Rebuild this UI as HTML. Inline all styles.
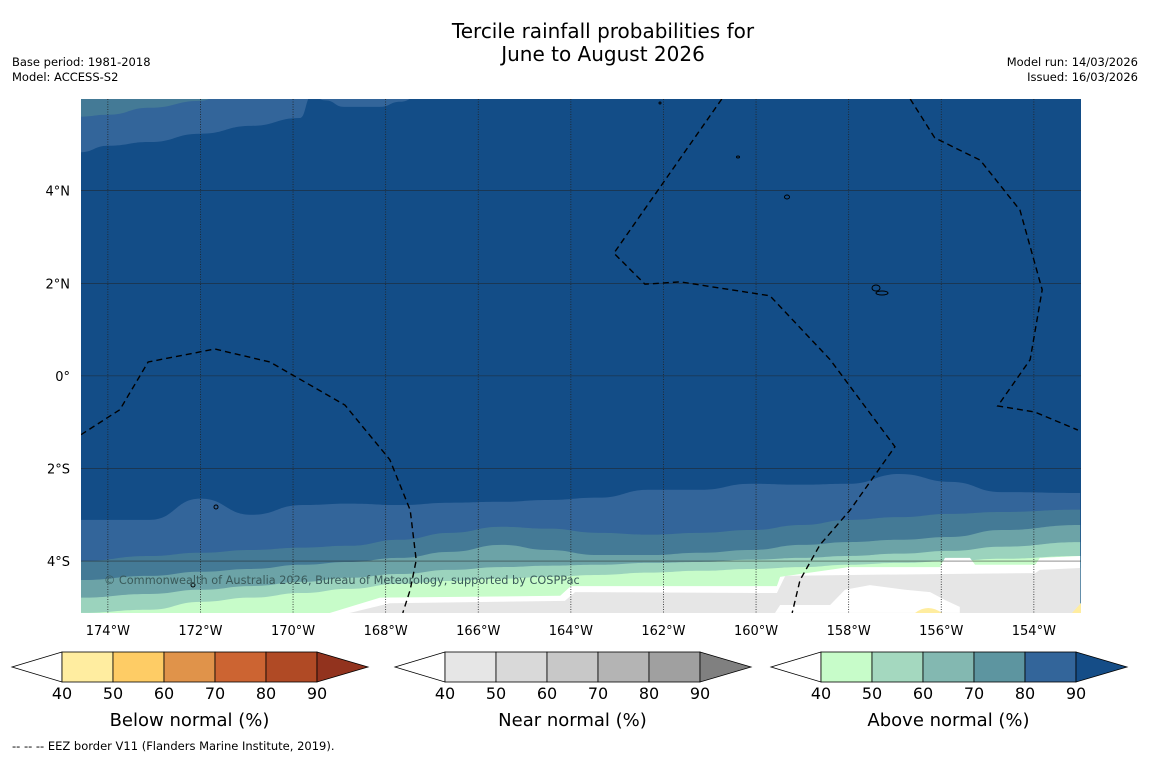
<!DOCTYPE html>
<html><head><meta charset="utf-8">
<style>
body{margin:0;background:#fff;width:1150px;height:758px;overflow:hidden;font-family:"DejaVu Sans","Liberation Sans",sans-serif;}
svg{display:block}
</style></head>
<body>
<svg id="chart" width="1150" height="758" xmlns="http://www.w3.org/2000/svg">
<text x="603" y="38" font-size="20" text-anchor="middle" fill="#000">Tercile rainfall probabilities for</text>
<text x="603" y="61" font-size="20" text-anchor="middle" fill="#000">June to August 2026</text>
<text x="12" y="66" font-size="11.5">Base period: 1981-2018</text>
<text x="12" y="81" font-size="11.5">Model: ACCESS-S2</text>
<text x="1138" y="66" font-size="11.5" text-anchor="end">Model run: 14/03/2026</text>
<text x="1138" y="81" font-size="11.5" text-anchor="end">Issued: 16/03/2026</text>
<defs><clipPath id="mapclip"><rect x="81" y="99" width="1000" height="514"/></clipPath></defs>
<g id="map" clip-path="url(#mapclip)"></g>
<g id="axes"></g>
<g id="bars"></g>
<text x="12" y="750" font-size="11.5">--  --  -- EEZ border V11 (Flanders Marine Institute, 2019).</text>
</svg>
<script>
const NS="http://www.w3.org/2000/svg";
// ---- data ----
const lonGrid=[-174.6,-173.1,-172.0,-170.9,-169.8,-168.8,-167.7,-166.6,-165.5,-164.5,-163.4,-162.3,-161.2,-160.1,-159.0,-158.0,-156.9,-155.8,-154.7,-153.0];
const bound90=[-3.11,-3.11,-2.65,-3.00,-2.79,-2.76,-2.79,-2.74,-2.72,-2.68,-2.63,-2.46,-2.46,-2.33,-2.35,-2.33,-2.12,-2.29,-2.51,-2.53];
const bound80=[-4.0,-3.89,-3.82,-3.76,-3.71,-3.67,-3.54,-3.39,-3.26,-3.30,-3.39,-3.43,-3.39,-3.33,-3.22,-3.11,-3.05,-2.98,-2.94,-2.89];
const bound70=[-4.41,-4.32,-4.23,-4.17,-4.08,-4.02,-3.93,-3.80,-3.65,-3.76,-3.87,-3.87,-3.82,-3.76,-3.65,-3.59,-3.54,-3.48,-3.33,-3.22];
const bound60=[-4.79,-4.71,-4.62,-4.54,-4.45,-4.36,-4.28,-4.19,-4.13,-4.10,-4.08,-4.04,-4.02,-3.97,-3.93,-3.89,-3.84,-3.78,-3.69,-3.59];
const bound50=[-5.12,-5.05,-4.88,-4.79,-4.69,-4.60,-4.49,-4.43,-4.38,-4.34,-4.30,-4.25,-4.21,-4.17,-4.13,-4.08,-4.04,-4.00,-3.95,-3.89];
const topLon=[-174.6,-174.0,-173.1,-172.0,-170.9,-169.85,-169.6,-169.3,-168.9,-168.12,-167.69,-167.26];
const topBound=[4.83,4.97,5.05,5.23,5.40,5.57,6.05,5.95,5.81,5.81,5.92,6.05];
const topLon2=[-174.6,-174.0,-173.1,-172.0,-171.5];
const topBound2=[5.60,5.64,5.79,5.94,6.1];
const nearLonW=[-174.6,-169.85,-169.2,-168.12,-164.23,-164.0,-159.55,-159.48,-158.0,-156.03,-155.92,-155.38,-155.27,-153.97,-153.87,-153.0];
const nearLatW=[-5.5,-5.5,-5.12,-4.79,-4.75,-4.54,-4.54,-4.34,-4.13,-4.13,-3.93,-3.93,-4.08,-4.08,-3.93,-3.89];
const nearLonG=[-174.6,-168.77,-167.91,-164.13,-163.91,-159.55,-159.37,-158.0,-153.97,-153.87,-153.0];
const nearLatG=[-5.5,-5.12,-4.91,-4.86,-4.67,-4.69,-4.32,-4.30,-4.26,-4.19,-4.15];
const holeLon=[-159.59,-159.48,-158.4,-158.08,-157.54,-156.78,-156.24,-155.92,-155.6,-155.6];
const holeLat=[-5.12,-4.95,-4.95,-4.62,-4.52,-4.62,-4.67,-4.84,-4.99,-5.12];
const eez1Lon=[-174.58,-173.74,-173.13,-171.69,-170.5,-168.88,-167.91,-167.47,-167.34,-167.47,-167.63];
const eez1Lat=[-1.27,-0.73,0.30,0.58,0.30,-0.63,-1.81,-2.90,-3.98,-4.62,-5.12];
const eez2Lon=[-160.74,-163.07,-162.4,-161.64,-159.7,-158.4,-157.0,-157.97,-158.62,-159.05,-159.22];
const eez2Lat=[5.98,2.65,1.98,2.03,1.73,0.35,-1.53,-2.90,-3.65,-4.41,-5.12];
const eez3Lon=[-156.67,-156.14,-155.16,-154.3,-153.82,-154.08,-154.78,-153.98,-153.05];
const eez3Lat=[5.98,5.14,4.66,3.58,1.86,0.35,-0.65,-0.78,-1.17];
const lonTicks=[-174,-172,-170,-168,-166,-164,-162,-160,-158,-156,-154];
const latTicks=[4,2,0,-2,-4];
const barTicks=[40,50,60,70,80,90];
const belowColors=["#ffeda0","#fecc65","#e0934a","#cc6432","#b04a25","#92331e"];
const nearColors=["#e6e6e6","#d9d9d9","#c8c8c8","#b4b4b4","#a0a0a0","#808080"];
const aboveColors=["#c7fcc9","#a4d8bf","#83b8b1","#5d95a0","#33659a","#154d87"];
// ---- axes ----
const lonMin=-174.58, latMax=5.98, ppd=46.3;
const X=lon=>81+(lon-lonMin)*ppd;
const Y=lat=>99+(latMax-lat)*ppd;
function el(tag,attrs,parent){const e=document.createElementNS(NS,tag);for(const k in attrs)e.setAttribute(k,attrs[k]);parent.appendChild(e);return e;}
const map=document.getElementById('map');
const bg=el('rect',{x:81,y:99,width:1000,height:514,fill:'#134d87'},map);


function smoothPts(lons,lats){return lons.map((l,i)=>[X(l),Y(lats[i])]);}
function pathFromPts(p){let d='M'+p[0][0]+','+p[0][1];for(let i=1;i<p.length;i++){const a=p[i-1],b=p[i];const mx=(a[0]+b[0])/2;d+=' C'+mx+','+a[1]+' '+mx+','+b[1]+' '+b[0]+','+b[1];}return d;}
function bandBelow(lons,lats,color,name,smooth){
  const p=smoothPts(lons,lats);
  let d=smooth?pathFromPts(p):'M'+p.map(q=>q.join(',')).join(' L');
  d+=' L'+X(lons[lons.length-1])+',700 L'+X(lons[0])+',700 Z';
  const e=el('path',{d:d,fill:color},map);
  
  
}
function bandAbove(lons,lats,color,name){
  const p=smoothPts(lons,lats);
  let d=pathFromPts(p)+' L'+X(lons[lons.length-1])+',90 L'+X(lons[0])+',90 Z';
  const e=el('path',{d:d,fill:color},map);
  
  
}
bandAbove(topLon,topBound,'#33659a','north-80-band');
bandAbove(topLon2,topBound2,'#447a96','north-70-band');
bandBelow(lonGrid,bound90,'#33659a','above-80-band',true);
bandBelow(lonGrid,bound80,'#447a96','above-70-band',true);
bandBelow(lonGrid,bound70,'#6ca3a7','above-60-band',true);
bandBelow(lonGrid,bound60,'#9bd3bd','above-50-band',true);
bandBelow(lonGrid,bound50,'#c7fcc9','above-40-band',true);
bandBelow(nearLonW,nearLatW,'#ffffff','no-dominant-region',false);
bandBelow(nearLonG,nearLatG,'#e6e6e6','near-normal-40-band',false);
(function(){const p=smoothPts(holeLon,holeLat);
const e=el('path',{d:'M'+p.map(q=>q.join(',')).join(' L')+' Z',fill:'#ffffff'},map);

})();
const y1=el('path',{d:'M915,613 Q928,603 942,613 Z',fill:'#ffeda0'},map);


const y2=el('path',{d:'M1072,613 L1081,603 L1081,613 Z',fill:'#ffeda0'},map);


// gridlines
lonTicks.forEach(l=>{const g=el('line',{x1:X(l),x2:X(l),y1:99,y2:613,stroke:'#222','stroke-width':0.8,'stroke-dasharray':'1,1.5'},map);

});
latTicks.forEach(l=>{const g=el('line',{x1:81,x2:1081,y1:Y(l),y2:Y(l),stroke:'#222','stroke-width':0.6,opacity:0.8},map);

});
// EEZ
[[eez1Lon,eez1Lat],[eez2Lon,eez2Lat],[eez3Lon,eez3Lat]].forEach(([lo,la])=>{
  const p=smoothPts(lo,la);
  const e=el('path',{d:'M'+p.map(q=>q.join(',')).join(' L'),fill:'none',stroke:'#000','stroke-width':1.4,'stroke-dasharray':'6,4'},map);
  
  
});
// islands
[[787,197,2.5,2],[876,288,4,3],[882,293,6,2],[738,157,1.5,1],[660,103,1,1],[216,507,2,2],[193,585,2,2]].forEach(a=>{
  const e=el('ellipse',{cx:a[0],cy:a[1],rx:a[2],ry:a[3],fill:'none',stroke:'#000','stroke-width':1},map);
  
  
});
const cp=el('text',{x:104,y:584,'font-size':11.3,fill:'#3a5a5a'},map);
cp.textContent='© Commonwealth of Australia 2026, Bureau of Meteorology, supported by COSPPac';


// tick labels
const axes=document.getElementById('axes');
lonTicks.forEach(l=>{const t=el('text',{x:X(l),y:635,'font-size':13,'text-anchor':'middle'},axes);t.textContent=Math.abs(l)+'°W';

});
latTicks.forEach(l=>{const t=el('text',{x:70,y:Y(l)+5,'font-size':13,'text-anchor':'end'},axes);t.textContent=l===0?'0°':Math.abs(l)+'°'+(l>0?'N':'S');

});
// colorbars
const bars=document.getElementById('bars');
function colorbar(x0,colors,label,name){
  const g=el('g',{},bars);
  
  
  const w=51,top=652,bot=682,mid=667;
  const l=el('path',{d:`M${x0+50},${top} L${x0},${mid} L${x0+50},${bot} Z`,fill:'#fff',stroke:'#000','stroke-width':0.8},g);
  
  
  for(let i=0;i<5;i++){const r=el('rect',{x:x0+50+i*w,y:top,width:w,height:30,fill:colors[i],stroke:'#000','stroke-width':0.8},g);
    
    }
  const xe=x0+50+5*w;
  const h=el('path',{d:`M${xe},${top} L${xe+51},${mid} L${xe},${bot} Z`,fill:colors[5],stroke:'#000','stroke-width':0.8},g);
  
  
  barTicks.forEach((v,i)=>{const t=el('text',{x:x0+50+i*w,y:699,'font-size':16,'text-anchor':'middle'},g);t.textContent=v;
    
    });
  const t=el('text',{x:x0+50+2.5*w,y:726,'font-size':18,'text-anchor':'middle'},g);t.textContent=label;
  
  
}
colorbar(12,belowColors,'Below normal (%)','below-normal-colorbar');
colorbar(395,nearColors,'Near normal (%)','near-normal-colorbar');
colorbar(771,aboveColors,'Above normal (%)','above-normal-colorbar');
</script>
</body></html>
